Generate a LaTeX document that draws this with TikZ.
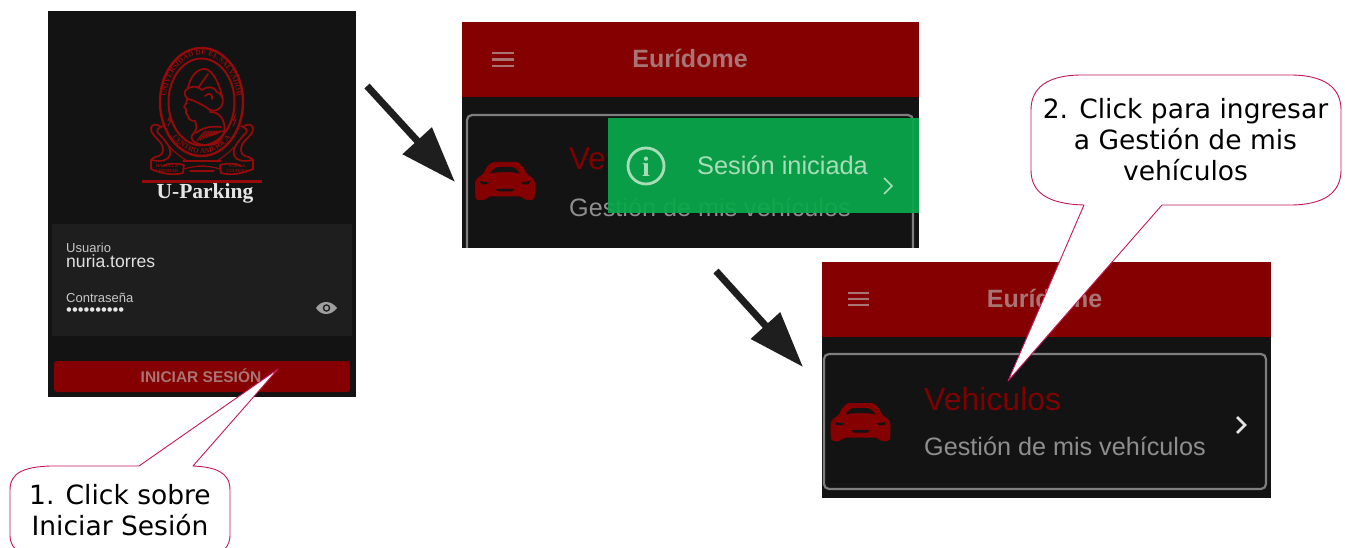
\documentclass[tikz,border=0pt]{standalone}
\usepackage{fontspec}
\setmainfont{Liberation Sans}
\newfontfamily\callfont{DejaVu Sans}
\newfontfamily\sealfont{Liberation Serif}
\usetikzlibrary{arrows.meta,decorations.text}
\definecolor{scr}{HTML}{131313}
\definecolor{panel}{HTML}{1E1E1E}
\definecolor{wine}{HTML}{850000}
\definecolor{seal}{HTML}{960A0A}
\definecolor{pinktxt}{HTML}{A97474}
\definecolor{greytxt}{HTML}{8E8E8E}
\definecolor{edge}{HTML}{7E7E7E}
\definecolor{toast}{HTML}{08A84A}
\definecolor{toasttxt}{HTML}{A9DDB9}
\definecolor{callline}{HTML}{C2185B}
\definecolor{arrowc}{HTML}{1E1E1E}
\newcommand{\fs}[1]{\fontsize{#1}{#1}\selectfont}
\tikzset{
  x=1pt,y=-1pt,
  txt/.style={inner sep=0pt,anchor=base west},
  calltext/.style={inner sep=0pt,align=center,font=\callfont\fontsize{26.5}{31.3}\selectfont},
  callout/.style={draw=callline,fill=white,line width=0.9pt,line join=round},
  bigarrow/.style={draw=arrowc,line width=7pt,-{Triangle[length=56pt,width=38pt,fill=arrowc]}},
  sealline/.style={draw=seal,line width=1.7pt,line cap=round,line join=round},
  sealthin/.style={draw=seal,line width=1.1pt,line cap=round},
  menubar/.style={draw=pinktxt,line width=2.4pt},
  card/.style={draw=edge,line width=2.2pt,rounded corners=5pt},
  car/.pic={
    \fill[wine,rounded corners=3pt] (-30,6) .. controls (-30,-1) and (-27,-4) .. (-22,-6)
      .. controls (-19,-14) and (-14,-19) .. (-8,-19) -- (8,-19)
      .. controls (14,-19) and (19,-14) .. (22,-6)
      .. controls (27,-4) and (30,-1) .. (30,6) -- (29.5,19) -- (19,19) -- (18,15.5)
      -- (-18,15.5) -- (-19,19) -- (-29.5,19) -- cycle;
    \fill[scr] (-15,-7.5) .. controls (-12,-12) and (-9,-14) .. (-6,-14) -- (6,-14)
      .. controls (9,-14) and (12,-12) .. (15,-7.5) .. controls (6,-9.5) and (-6,-9.5) .. (-15,-7.5) -- cycle;
    \fill[scr] (-25,0) -- (-16,1.5) -- (-19,3.5) -- (-24,3) -- cycle;
    \fill[scr] (25,0) -- (16,1.5) -- (19,3.5) -- (24,3) -- cycle;
    \fill[scr] (-9,8) -- (9,8) -- (7,10.5) -- (-7,10.5) -- cycle;
  },
  ribbon/.pic={
    \draw[sealline] (160,126) .. controls (156,124) and (152,124) .. (151,128)
      .. controls (150,133) and (156,137) .. (161,143)
      .. controls (164,148) and (164,154) .. (159,156)
      .. controls (155,157) and (152,158) .. (151,160)
      -- (151,169) .. controls (160,173) and (172,176) .. (183,173)
      -- (184,165) .. controls (176,163) and (168,163) .. (163,166);
    \draw[sealline] (163,126) .. controls (158,128) and (156,130) .. (158,133)
      .. controls (165,140) and (172,148) .. (170,155)
      .. controls (168,161) and (160,162) .. (152,160);
    \draw[sealthin] (183,161) -- (205,161);
    \draw[sealthin] (184,169) .. controls (190,167) and (198,166) .. (205,166);
    \draw[sealthin] (170,147) .. controls (175,153) and (181,157) .. (187,161);
  }
}
\begin{document}
\begin{tikzpicture}
\useasboundingbox (0,0) rectangle (1345,548);
\clip (0,0) rectangle (1345,548);
\fill[white] (0,0) rectangle (1345,548);

% ---------- screen 1 ----------
\fill[scr] (48,11) rectangle (356,397);
\fill[panel] (52,224) rectangle (352,336);
\fill[wine,rounded corners=3pt] (54,361) rectangle (350,392);
% seal
\draw[sealline,line width=2.4pt] (201.5,102) ellipse [x radius=41.5,y radius=54];
\draw[sealline,line width=2pt] (201.5,102) ellipse [x radius=33,y radius=43.5];
\path[decorate,decoration={text along path,text align=center,
   text={|\sealfont\bfseries\color{seal}\fs{7.4}|UNIVERSIDAD DE EL SALVADOR}}]
   (201.5,102) ++(158:35.5 and 47) arc[start angle=158,end angle=382,x radius=35.5,y radius=47];
\path[decorate,decoration={text along path,text align=center,
   text={|\sealfont\bfseries\color{seal}\fs{7.4}|CENTRO AMERICA}}]
   (201.5,102) ++(150:40 and 51.5) arc[start angle=150,end angle=30,x radius=40,y radius=51.5];
% lightning marks
\draw[sealthin] (171,114) -- (168,120) -- (171,120) -- (168,126);
\draw[sealthin] (236,114) -- (233,120) -- (236,120) -- (233,126);
% woman
\draw[sealline] (188,88) .. controls (190,77) and (197,68) .. (206,69)
  .. controls (214,72) and (219,84) .. (222,96);
\draw[sealline] (186,90) .. controls (192,85) and (198,86) .. (202,90)
  .. controls (207,86) and (214,86) .. (217,92) .. controls (223,94) and (225,102) .. (221,107)
  .. controls (217,112) and (210,112) .. (206,107) .. controls (200,104) and (194,100) .. (188,99)
  .. controls (184,96) and (184,92) .. (186,90);
\draw[sealline] (187,99) .. controls (187,102) and (186,104) .. (184,107)
  -- (186,109) -- (186,113) -- (188,116) .. controls (188,119) and (191,121) .. (195,121)
  .. controls (197,126) and (197,129) .. (194,133) .. controls (190,136) and (191,141) .. (196,143)
  .. controls (204,146) and (214,146) .. (219,141) .. controls (226,134) and (226,124) .. (221,117)
  .. controls (218,113) and (214,112) .. (210,112);
\draw[sealline] (198,88) -- (208,74);
\draw[sealline] (205,96) .. controls (209,92) and (213,94) .. (212,99);
\draw[sealline] (196,133) .. controls (203,127) and (212,126) .. (221,127);
\foreach \q in {0,3,6,9,12,15,18} {
  \draw[sealthin] ({197+\q},{141-\q*0.35}) .. controls ({200+\q},{136-\q*0.2}) and ({204+\q},{133-\q*0.1}) .. ({206+\q},{131});
}
% ribbons
\pic at (0,0) {ribbon};
\pic[xscale=-1] at (404,0) {ribbon};
\draw[sealthin] (190,171) -- (214,171);
\node[inner sep=0pt,align=center,text=seal,font=\sealfont\bfseries\fontsize{4.4}{4.4}\selectfont] (mottoa) at (167,168.5) {HACIA LA\\LIBERTAD};
\node[inner sep=0pt,align=center,text=seal,font=\sealfont\bfseries\fontsize{4.4}{4.4}\selectfont] (mottob) at (237,168.5) {POR LA\\CULTURA};
\draw[draw=seal,line width=2.2pt] (142,181.5) -- (262,181.5);
\node[inner sep=0pt,text=white!90!black,font=\sealfont\bfseries\fs{21.5}] (brand) at (205,193) {U-Parking};
% form
\node[txt,text=white!78!black,font=\fs{13}] (userlbl) at (66,253) {Usuario};
\node[txt,text=white!88!black,font=\fs{17.6}] (userval) at (66,268) {nuria.torres};
\node[txt,text=white!78!black,font=\fs{13}] (passlbl) at (66,302) {Contraseña};
\node[txt,text=white!90!black,font=\fs{16.6}] (passval) at (66,316) {••••••••••};
\fill[white!62!black] (316,308) .. controls (321,300) and (331,300) .. (337,308)
   .. controls (331,316) and (321,316) .. (316,308) -- cycle;
\fill[panel] (326.5,308) circle (3.8);
\fill[white!62!black] (326.5,308) circle (2.2);
\node[inner sep=0pt,text=pinktxt,font=\bfseries\fs{15.5}] (login) at (201,376) {INICIAR SESIÓN};

% ---------- screen 2 ----------
\begin{scope}
\clip (462,22) rectangle (919,248);
\fill[scr] (462,22) rectangle (919,248);
\fill[wine] (462,22) rectangle (919,97);
\draw[menubar] (492,53) -- (514,53) (492,59.5) -- (514,59.5) (492,66) -- (514,66);
\node[inner sep=0pt,text=pinktxt,font=\bfseries\fs{25}] (title) at (690,58.5) {Eurídome};
\draw[card] (467,115) rectangle (913,262);
\pic at (505,181) {car};
\node[txt,text=wine!95!black,font=\fs{31.5}] (ve) at (569,170) {Ve};
\node[txt,text=greytxt,font=\fs{25.2}] (desc) at (569,216.5) {Gestión de mis vehículos};
\fill[toast,opacity=0.93] (608,118) rectangle (919,213);
\draw[toasttxt,line width=2.8pt] (646,166) circle (18);
\node[inner sep=0pt,text=toasttxt,font=\sealfont\bfseries\fs{28}] (infoi) at (646,167) {i};
\node[inner sep=0pt,text=toasttxt,font=\fs{25.4}] (toastmsg) at (782.5,165) {Sesión iniciada};
\draw[toasttxt,line width=1.6pt] (884,178) -- (892,186) -- (884,194);
\end{scope}

% ---------- screen 3 ----------
\fill[scr] (822,262) rectangle (1271,498);
\fill[wine] (822,262) rectangle (1271,337);
\draw[menubar] (848,293) -- (869,293) (848,299) -- (869,299) (848,305) -- (869,305);
\node[inner sep=0pt,text=pinktxt,font=\bfseries\fs{25}] (titleb) at (1044.5,298.5) {Eurídome};
\draw[card] (824,354) rectangle (1266,489);
\pic at (860.5,422) {car};
\node[txt,text=wine!95!black,font=\fs{32}] (veh) at (924,410) {Vehiculos};
\node[txt,text=greytxt,font=\fs{25.2}] (descb) at (924,455) {Gestión de mis vehículos};
\draw[white!90!black,line width=2.8pt] (1237,417) -- (1245,425) -- (1237,433);

% ---------- arrows ----------
\coordinate (a1s) at (367,86);
\coordinate (a1e) at (455,182);
\coordinate (a2s) at (716,271);
\coordinate (a2e) at (803,367);
\draw[bigarrow] (a1s) -- (a1e);
\draw[bigarrow] (a2s) -- (a2e);

% ---------- callouts ----------
\coordinate (tipa) at (278,369);
\coordinate (tipb) at (1008,381);
\draw[callout] (139,466) -- (tipa) -- (193,466)
  .. controls (215,467) and (230,472) .. (230,490)
  -- (230,535) .. controls (230,552) and (215,558) .. (193,558)
  -- (50,558) .. controls (25,558) and (10,552) .. (10,535)
  -- (10,490) .. controls (10,472) and (25,467) .. (50,466) -- cycle;
\draw[callout] (1084,205) -- (tipb) -- (1162,205)
  -- (1290,205) .. controls (1325,205) and (1341,192) .. (1341,170)
  -- (1341,110) .. controls (1341,88) and (1325,75) .. (1290,75)
  -- (1082,75) .. controls (1047,75) and (1031,88) .. (1031,110)
  -- (1031,170) .. controls (1031,192) and (1047,204) .. cycle;
\node[calltext] (texta) at (120,510) {1. Click sobre\\Iniciar Sesión};
\node[calltext] (textb) at (1185.5,139.5) {2. Click para ingresar\\a Gestión de mis\\vehículos};
\end{tikzpicture}
\end{document}
